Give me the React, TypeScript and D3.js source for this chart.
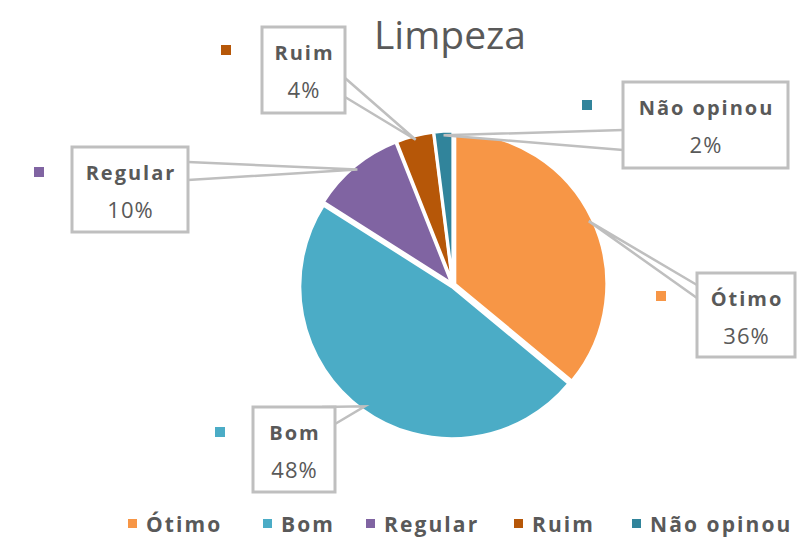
import React from "react";
import * as d3 from "d3";

const categories = ["Ótimo", "Bom", "Regular", "Ruim", "Não opinou"];
const values = [36, 48, 10, 4, 2];
const percentLabels = ["36%", "48%", "10%", "4%", "2%"];
const colors = ["#F79646", "#4BACC6", "#8064A2", "#B65708", "#31849B"];
const title = "Limpeza";

// layout for callout boxes (x, y, w, h) and the legend keys next to them
const boxes = [
  { x: 697, y: 273, w: 98, h: 84, base: [[697, 285], [697, 298]], key: [656, 291] },
  { x: 253, y: 407, w: 82, h: 85, base: [[322, 407], [335, 424]], key: [215, 427] },
  { x: 72, y: 147, w: 116, h: 85, base: [[188, 162], [188, 180]], key: [34, 167] },
  { x: 262, y: 27, w: 83, h: 86, base: [[345, 78], [345, 97]], key: [221, 45] },
  { x: 623, y: 82, w: 165, h: 86, base: [[623, 130], [623, 150]], key: [582, 100] },
];
const legendX = [128, 263, 366, 514, 632];

export default function App() {
  const W = 797, H = 546;
  const cx = 453, cy = 285, r = 152;
  const pie = d3.pie<number>().sort(null).value((d) => d);
  const arcs = pie(values);
  const arcGen = d3.arc<d3.PieArcDatum<number>>().innerRadius(0).outerRadius(r);
  const gray = "#BFBFBF";
  const textColor = "#595959";
  const font = "'Open Sans', 'Liberation Sans', sans-serif";

  return (
    <svg width={W} height={H} style={{ position: "absolute", left: 0, top: 0, background: "#fff" }}>
      <text x={450} y={49} textAnchor="middle" fontFamily={font} fontSize={39} fill={textColor}>
        {title}
      </text>
      <g transform={`translate(${cx},${cy})`}>
        {arcs.map((a, i) => {
          const mid = (a.startAngle + a.endAngle) / 2;
          const off = 2;
          const dx = Math.sin(mid) * off, dy = -Math.cos(mid) * off;
          return (
            <path key={i} d={arcGen(a) || ""} fill={colors[i]} stroke="#fff" strokeWidth={3}
              transform={`translate(${dx},${dy})`} />
          );
        })}
      </g>
      {arcs.map((a, i) => {
        const b = boxes[i];
        const mid = (a.startAngle + a.endAngle) / 2;
        const tip = [cx + Math.sin(mid) * (r - 2), cy - Math.cos(mid) * (r - 2)];
        const poly = `M${b.base[0][0]},${b.base[0][1]}L${tip[0]},${tip[1]}L${b.base[1][0]},${b.base[1][1]}`;
        return (
          <g key={i}>
            <path d={poly + "Z"} fill="#fff" stroke="none" />
            <path d={poly} fill="none" stroke={gray} strokeWidth={2.5} strokeLinejoin="miter" />
          </g>
        );
      })}
      {arcs.map((a, i) => {
        const b = boxes[i];
        const tcx = b.x + b.w / 2;
        return (
          <g key={i}>
            <rect x={b.x} y={b.y} width={b.w} height={b.h} fill="#fff" stroke={gray} strokeWidth={3} />
            <rect x={b.key[0]} y={b.key[1]} width={10} height={10} fill={colors[i]} />
            <text x={tcx + 1} y={b.y + 33} textAnchor="middle" fontFamily={font} fontSize={20}
              fontWeight={700} letterSpacing={2} fill={textColor}>
              {categories[i]}
            </text>
            <text x={tcx + 0.5} y={b.y + 71} textAnchor="middle" fontFamily={font} fontSize={22}
              letterSpacing={1} fill={textColor}>
              {percentLabels[i]}
            </text>
          </g>
        );
      })}
      {categories.map((c, i) => (
        <g key={c}>
          <rect x={legendX[i]} y={519} width={9} height={9} fill={colors[i]} />
          <text x={legendX[i] + 18} y={532} fontFamily={font} fontSize={21} fontWeight={700}
            letterSpacing={2.1} fill={textColor}>
            {c}
          </text>
        </g>
      ))}
    </svg>
  );
}
